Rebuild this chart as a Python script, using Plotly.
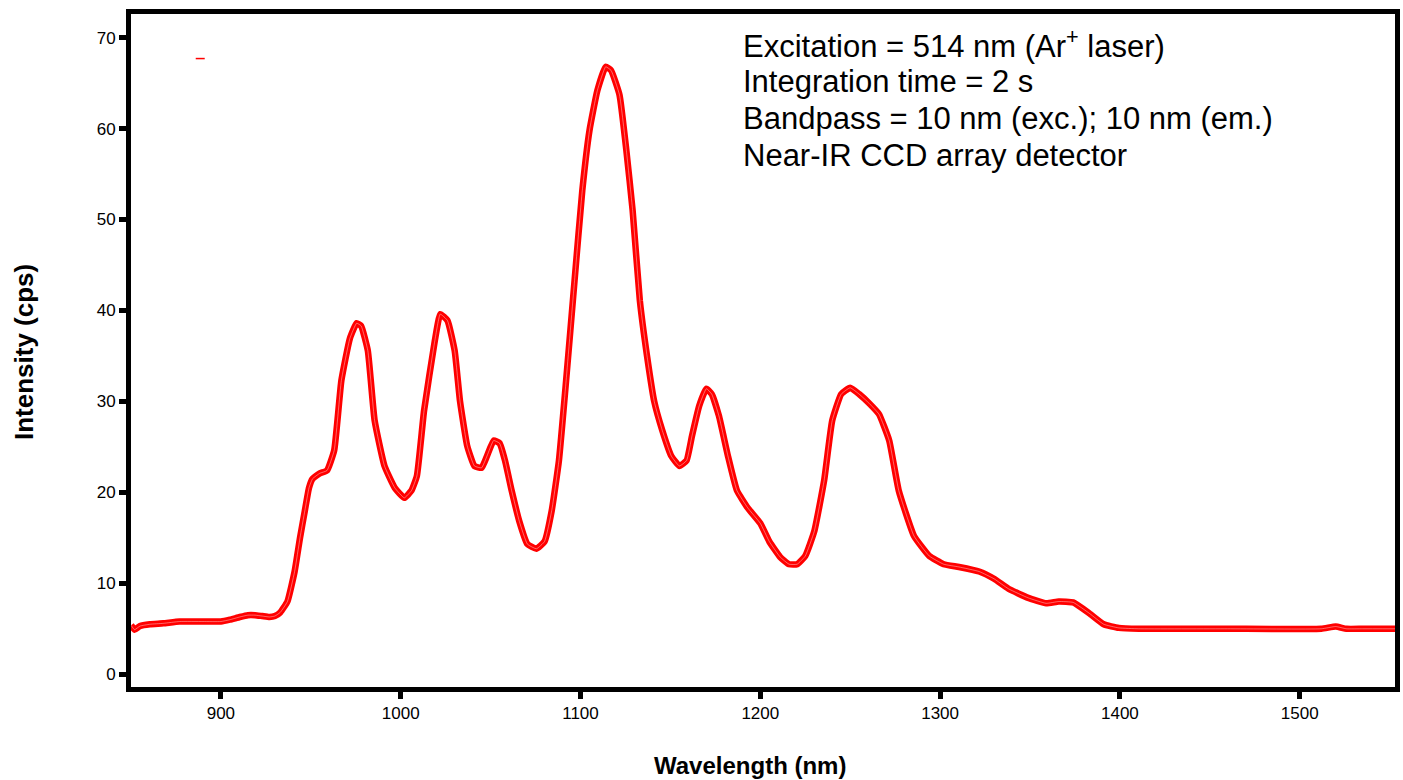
import plotly.graph_objects as go

wavelength_nm = [850, 852, 855, 860.5, 868, 877, 890, 900, 905, 910.5, 915, 919, 923, 927, 930, 933,
                 937, 941, 944, 946.7, 949, 951, 955, 959, 963, 967, 971.7, 975.5, 978, 981.7, 985.5,
                 991, 996.7, 1002, 1006, 1009, 1013, 1019, 1022, 1026, 1030, 1033, 1037, 1041, 1045,
                 1048, 1051.7, 1055, 1058, 1061.7, 1066, 1070.5, 1075.5, 1080, 1084, 1088, 1092,
                 1096.7, 1101, 1105, 1109.4, 1114, 1117, 1121.7, 1125.5, 1129, 1133, 1137, 1141,
                 1145.5, 1150.5, 1155, 1159, 1162, 1166, 1170, 1173, 1177, 1182, 1187, 1193, 1200,
                 1205, 1211, 1216, 1220.5, 1225, 1230, 1235.5, 1240, 1245, 1250, 1255, 1260.5, 1266,
                 1271.7, 1277, 1285.5, 1294, 1302, 1310.5, 1321.7, 1330, 1338, 1349, 1359, 1366,
                 1374, 1383, 1391, 1399.4, 1410.5, 1460, 1512, 1520, 1526, 1535, 1553]
intensity_cps = [5.4, 4.9, 5.3, 5.5, 5.6, 5.8, 5.8, 5.8, 6.0, 6.3, 6.5, 6.5, 6.4, 6.3, 6.4, 6.8,
                 8.0, 11.3, 15.0, 18.0, 20.5, 21.5, 22.1, 22.4, 24.6, 32.3, 36.9, 38.6, 38.3, 35.6,
                 27.9, 22.9, 20.5, 19.4, 20.2, 21.8, 29.0, 36.7, 39.6, 38.9, 35.6, 30.0, 25.1, 22.9,
                 22.7, 24.0, 25.7, 25.4, 23.5, 20.2, 16.8, 14.3, 13.8, 14.6, 18.0, 23.5, 32.3,
                 43.3, 53.2, 59.8, 64.2, 66.8, 66.4, 63.7, 57.6, 51.0, 41.1, 35.0, 30.0,
                 26.8, 24.0, 22.9, 23.5, 26.2, 29.5, 31.4, 30.8, 28.4, 24.0, 20.2, 18.3, 16.6,
                 14.6, 12.9, 12.1, 12.1, 13.0, 15.7, 21.3, 27.9, 30.8, 31.5, 30.8, 29.8, 28.6,
                 25.7, 20.2, 15.2, 13.0, 12.1, 11.8, 11.3, 10.5, 9.4, 8.4, 7.8, 8.0,
                 7.9, 6.7, 5.5, 5.1, 5.0, 5.0, 5.0, 5.25, 5.0, 5.0, 5.0]

# stray mark near top-left of the plot
stray_x = [886, 891]
stray_y = [67.7, 67.7]

x_ticks = [900, 1000, 1100, 1200, 1300, 1400, 1500]
y_ticks = [0, 10, 20, 30, 40, 50, 60, 70]

x_title = "Wavelength (nm)"
y_title = "Intensity (cps)"
notes = ["Excitation = 514 nm (Ar<sup>+</sup> laser)",
         "Integration time = 2 s",
         "Bandpass = 10 nm (exc.); 10 nm (em.)",
         "Near-IR CCD array detector"]

FONT = "Liberation Sans, Arial, sans-serif"

fig = go.Figure()
fig.add_trace(go.Scatter(x=wavelength_nm, y=intensity_cps, mode="lines",
                         line=dict(color="#ff0000", width=6.5, shape="spline", smoothing=0.4),
                         hoverinfo="skip", showlegend=False))
fig.add_trace(go.Scatter(x=wavelength_nm, y=intensity_cps, mode="lines",
                         line=dict(color="rgba(255,255,255,0.5)", width=0.8, shape="spline", smoothing=0.4),
                         hoverinfo="skip", showlegend=False))
fig.add_trace(go.Scatter(x=stray_x, y=stray_y, mode="lines",
                         line=dict(color="#ff0000", width=1.5),
                         hoverinfo="skip", showlegend=False))

plot_l, plot_r, plot_t, plot_b = 131, 1395.5, 13.5, 687.5
H = plot_b - plot_t
W = plot_r - plot_l


def px_x(px):
    return (px - plot_l) / W


def px_y(py):
    return 1 - (py - plot_t) / H


line_centers = [44, 81, 118, 155]
for txt, py in zip(notes, line_centers):
    fig.add_annotation(text=txt, xref="paper", yref="paper",
                       x=px_x(741), y=px_y(py),
                       xanchor="left", yanchor="middle", showarrow=False,
                       font=dict(family=FONT, size=31, color="black"))

fig.add_annotation(text="<b>" + x_title + "</b>", xref="paper", yref="paper",
                   x=px_x(750), y=px_y(766), xanchor="center", yanchor="middle",
                   showarrow=False, font=dict(family=FONT, size=24, color="black"))
fig.add_annotation(text="<b>" + y_title + "</b>", xref="paper", yref="paper",
                   x=px_x(24), y=px_y(352), xanchor="center", yanchor="middle",
                   textangle=-90, showarrow=False,
                   font=dict(family=FONT, size=26, color="black"))

axis_common = dict(ticks="outside", ticklen=7, tickwidth=5, tickcolor="black",
                   showline=True, linecolor="black", linewidth=5, mirror=True,
                   showgrid=False, zeroline=False, automargin=False,
                   tickfont=dict(size=17, family=FONT, color="black"))

fig.update_layout(
    width=1403, height=780,
    margin=dict(l=plot_l, r=1403 - plot_r, t=plot_t, b=780 - plot_b, autoexpand=False),
    paper_bgcolor="white", plot_bgcolor="white",
    font=dict(family=FONT, color="black"),
    xaxis=dict(range=[850, 1553], tickvals=x_ticks, **axis_common),
    yaxis=dict(range=[-1.4, 72.6], tickvals=y_ticks, **axis_common),
)

fig.write_html("out.html", config={"displayModeBar": False},
               post_script="document.body.style.margin='0px';document.body.style.overflow='hidden';")
